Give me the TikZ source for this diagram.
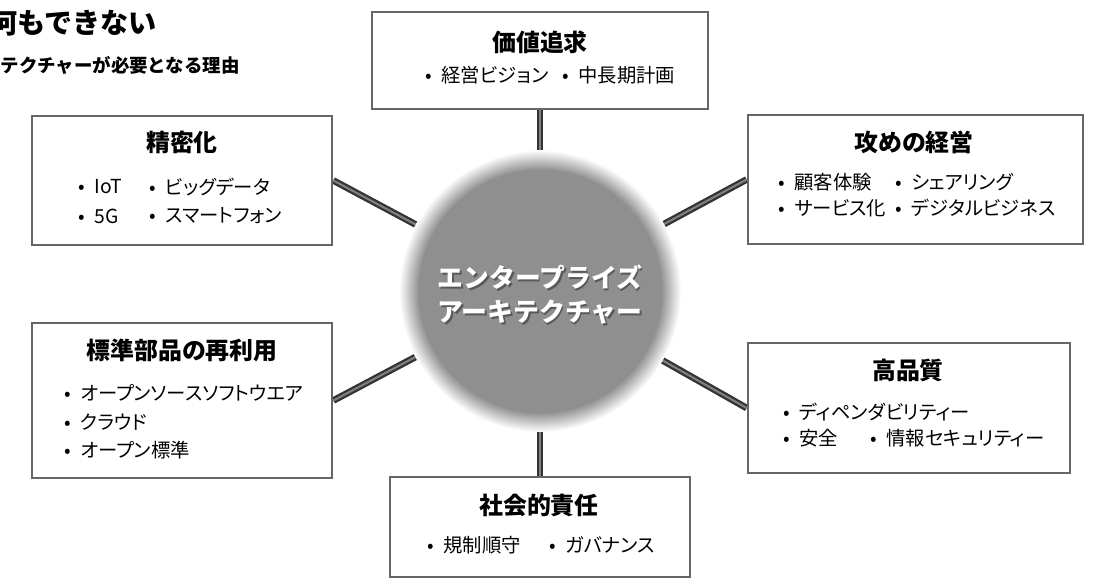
\documentclass[tikz,border=0pt]{standalone}
\usepackage{fontspec}
\setmainfont{Noto Sans CJK JP}[RawFeature=+palt]
\newfontfamily\jpfull{Noto Sans CJK JP}
\pgfdeclarelayer{bg}
\pgfsetlayers{bg,main}
\colorlet{ballc}{black!44}
\pgfdeclareradialshading{ballshade}{\pgfpoint{0bp}{0bp}}{color(0bp)=(ballc); color(21.5bp)=(ballc); color(25bp)=(white); color(50bp)=(white)}
\newcommand\bul{\makebox[1.3em][c]{•}}
\begin{document}
\begin{tikzpicture}[x=0.02cm,y=-0.02cm,
  box/.style={rectangle, draw=black!60, line width=1.6pt, fill=white, inner sep=0pt},
  ttl/.style={font=\bfseries\fontsize{13.6}{16}\selectfont, inner sep=0pt},
  itm/.style={font=\fontsize{11}{14}\selectfont, anchor=west, inner sep=0pt},
  link/.style={draw=black!80, line width=1.3pt, double=black!50, double distance=1.2pt},
  ctext/.style={font=\jpfull\bfseries\fontsize{14.7}{19.3}\selectfont, align=center, inner sep=0pt}]
\useasboundingbox (0,0) rectangle (1097,585);
\clip (0,0) rectangle (1097,585);

% heading (cut off at the left edge, as in the reference)
\node[font=\jpfull\bfseries\fontsize{16}{19}\selectfont, anchor=east, inner sep=0pt] (h1) at (157,23) {何もできない};
\node[font=\jpfull\bfseries\fontsize{10.5}{12}\selectfont, anchor=east, inner sep=0pt] (h2) at (240,65) {テクチャーが必要となる理由};

% boxes
\node[box, minimum width=6.72cm, minimum height=1.94cm] (vt) at (540,60.5) {};
\node[box, minimum width=6cm, minimum height=2.58cm] (sm) at (182,180.5) {};
\node[box, minimum width=6.7cm, minimum height=2.58cm] (ks) at (915.5,179.5) {};
\node[box, minimum width=6cm, minimum height=3.1cm] (hj) at (182,400.5) {};
\node[box, minimum width=6.44cm, minimum height=2.6cm] (hq) at (909,408) {};
\node[box, minimum width=6cm, minimum height=2cm] (sk) at (540,527) {};

% centre circle
\node[circle, minimum size=5.64cm, inner sep=0pt, shade, shading=ballshade] (c) at (540,291) {};
\node[ctext, text=black!65] (cs) at (541.5,296.5) {エンタープライズ\\アーキテクチャー};
\node[ctext, text=white] (ct) at (540,295) {エンタープライズ\\アーキテクチャー};

% connectors
\begin{pgfonlayer}{bg}
\draw[link] (c.center) -- (vt.south);
\draw[link] (c.center) -- (sk.north);
\draw[link] (c.center) -- (sm.east);
\draw[link] (c.center) -- (ks.west);
\draw[link] (c.center) -- (hj.east);
\draw[link] (c.center) -- (hq.west);
\end{pgfonlayer}

% 価値追求
\node[ttl] (vtt) at (540,42) {価値追求};
\node[itm] (vt1) at (416,75) {\bul 経営ビジョン};
\node[itm] (vt2) at (553,75) {\bul 中長期計画};

% 精密化
\node[ttl] (smt) at (182,142) {精密化};
\node[itm] (sm1) at (69,187) {\bul IoT};
\node[itm] (sm2) at (140,187) {\bul ビッグデータ};
\node[itm] (sm3) at (69,216) {\bul 5G};
\node[itm] (sm4) at (140,216) {\bul スマートフォン};

% 攻めの経営
\node[ttl] (kst) at (914,142) {攻めの経営};
\node[itm] (ks1) at (769,182) {\bul 顧客体験};
\node[itm] (ks2) at (886,182) {\bul シェアリング};
\node[itm] (ks3) at (769,208) {\bul サービス化};
\node[itm] (ks4) at (886,208) {\bul デジタルビジネス};

% 標準部品の再利用
\node[ttl] (hjt) at (182,350) {標準部品の再利用};
\node[itm] (hj1) at (55,393) {\bul オープンソースソフトウエア};
\node[itm] (hj2) at (55,422) {\bul クラウド};
\node[itm] (hj3) at (55,450) {\bul オープン標準};

% 高品質
\node[ttl] (hqt) at (908,370) {高品質};
\node[itm] (hq1) at (774,412) {\bul ディペンダビリティー};
\node[itm] (hq2) at (774,438) {\bul 安全};
\node[itm] (hq3) at (861,438) {\bul 情報セキュリティー};

% 社会的責任
\node[ttl] (skt) at (539,505) {社会的責任};
\node[itm] (sk1) at (418,545) {\bul 規制順守};
\node[itm] (sk2) at (540,545) {\bul ガバナンス};
\end{tikzpicture}
\end{document}
